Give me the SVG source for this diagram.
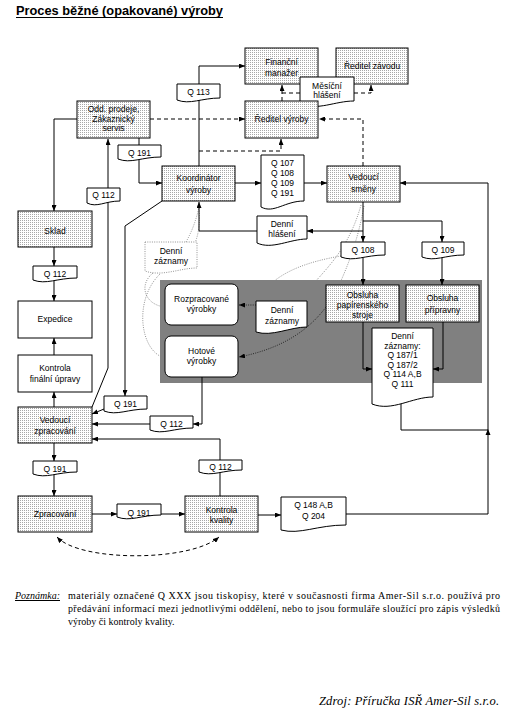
<svg xmlns="http://www.w3.org/2000/svg" width="505" height="711" viewBox="0 0 505 711">
<defs>
<pattern id="h" width="2" height="2" patternUnits="userSpaceOnUse"><rect width="2" height="2" fill="#fff"/><rect width="1" height="1" fill="#a8a8a8"/></pattern>
<marker id="a" viewBox="0 0 6 5" refX="6" refY="2.5" markerWidth="6" markerHeight="5" markerUnits="userSpaceOnUse" orient="auto"><path d="M0,0 L6,2.5 L0,5 z" fill="#000"/></marker>
<marker id="as" viewBox="0 0 6 5" refX="6" refY="2.5" markerWidth="6" markerHeight="5" markerUnits="userSpaceOnUse" orient="auto-start-reverse"><path d="M0,0 L6,2.5 L0,5 z" fill="#000"/></marker>
<style>
.b{fill:url(#h);stroke:#000;stroke-width:1}
.w{fill:#fff;stroke:#000;stroke-width:1}
.t{font-family:"Liberation Sans",Arial,sans-serif;font-size:8.5px;text-anchor:middle;fill:#000}
.c{fill:none;stroke:#000;stroke-width:1}
.d{stroke-dasharray:4,3}
.o{fill:none;stroke:#777;stroke-width:0.8;stroke-dasharray:1,1.3}
.k{fill:none;stroke:#111;stroke-width:0.8;stroke-dasharray:1,1.3}
.n{font-family:"Liberation Serif","Times New Roman",serif;font-size:10px;fill:#000}
.z{font-family:"Liberation Serif","Times New Roman",serif;font-size:12.5px;font-style:italic;fill:#000}
</style>
</defs>
<rect width="505" height="711" fill="#fff"/>
<text x="16" y="15" font-family="Liberation Sans,Arial,sans-serif" font-size="12" font-weight="bold" textLength="207" lengthAdjust="spacingAndGlyphs">Proces běžné (opakované) výroby</text>
<line x1="16" y1="17.5" x2="223" y2="17.5" stroke="#000" stroke-width="1.2"/>

<g id="dotted-curves">
<path class="o" d="M186,242 Q195,226 199,207"/>
<path class="o" d="M195,243 Q201,228 199,207"/>
<path class="o" d="M361,205 C350,245 330,265 315,282"/>
<path class="o" d="M364,206 C358,240 348,265 340,283"/>
<path class="o" d="M341,256 C305,262 285,272 273,282"/>
<path class="o" d="M153,273 C138,285 145,305 165,307"/>
<path class="o" d="M160,274 C133,300 140,352 165,358"/>
</g>

<rect x="160" y="280" width="322" height="103" fill="#808080"/>

<g id="connectors">
<path class="c" d="M77,119 H54 V211" marker-end="url(#a)"/>
<path class="c d" d="M150,119 H245" marker-end="url(#a)"/>
<path class="c" d="M139,138 V146"/>
<path class="c" d="M139,160 V183 H162" marker-end="url(#a)"/>
<path class="c" d="M92,407 L108,368 V139" marker-end="url(#a)"/>
<path class="c" d="M199,166 V66 H245" marker-end="url(#a)"/>
<path class="c d" d="M199,151 H281 V139" marker-end="url(#a)"/>
<path class="c d" d="M282,101 V85" marker-end="url(#a)"/>
<path class="c d" d="M282,93 H300"/>
<path class="c d" d="M354,93 H371 V85" marker-end="url(#a)"/>
<path class="c d" d="M363,166 V119 H319" marker-end="url(#a)"/>
<path class="c" d="M235,183 H261" marker-end="url(#a)"/>
<path class="c" d="M304,183 H327" marker-end="url(#a)"/>
<path class="c" d="M363,202 V242" marker-end="url(#a)"/>
<path class="c" d="M363,221 H442 V242" marker-end="url(#a)"/>
<path class="c" d="M363,231 H307" marker-end="url(#a)"/>
<path class="c" d="M257,231 H199 V202" marker-end="url(#a)"/>
<path class="c" d="M162,201 L125,226 V396" marker-end="url(#a)"/>
<path class="c" d="M104,409 L92,414" marker-end="url(#a)"/>
<path class="c" d="M202,377 V424 H193" marker-end="url(#a)"/>
<path class="c" d="M150,424 H92" marker-end="url(#a)"/>
<path class="c" d="M220,496 V439 H92" marker-end="url(#a)"/>
<path class="c" d="M54,247 V266" marker-end="url(#a)"/>
<path class="c" d="M54,281 V301" marker-end="url(#a)"/>
<path class="c" d="M54,355 V338" marker-end="url(#a)"/>
<path class="c" d="M54,407 V392" marker-end="url(#a)"/>
<path class="c" d="M54,443 V461" marker-end="url(#a)"/>
<path class="c" d="M54,475 V496" marker-end="url(#a)"/>
<path class="c" d="M92,514 H117" marker-end="url(#a)"/>
<path class="c" d="M161,514 H185" marker-end="url(#a)"/>
<path class="c" d="M258,515 H281" marker-end="url(#a)"/>
<path class="c" d="M346,514 H488 V183 H400" marker-end="url(#a)"/>
<path class="c" d="M401,402 V430 H488"/>
<path d="M488,429 L485.5,435 L490.5,435 z" fill="#000"/>
<path class="c" d="M363,258 V285" marker-end="url(#a)"/>
<path class="c" d="M442,258 V285" marker-end="url(#a)"/>
<path class="c" d="M363,322 V369 H372" marker-end="url(#a)"/>
<path class="c" d="M443,322 V369 H433" marker-end="url(#a)"/>
<path class="k" d="M256,305 H239" marker-end="url(#a)"/>
<path class="k" d="M326,307 C305,335 275,350 239,357" marker-end="url(#a)"/>
<path class="c d" d="M57,537 C80,562 190,562 219,537" marker-start="url(#as)" marker-end="url(#as)"/>
</g>

<g id="odd-prodeje"><rect class="b" x="77" y="101" width="73" height="37"/><text class="t" x="113.5" y="112">Odd. prodeje,</text><text class="t" x="113.5" y="122">Zákaznický</text><text class="t" x="113.5" y="131">servis</text></g>
<g id="q113"><path class="w" d="M177,84 H220 V98 C201.7,98 189.9,105 177,100 Z"/><text class="t" x="198.5" y="95">Q 113</text></g>
<g id="financni-manazer"><rect class="b" x="245" y="48" width="73" height="36"/><text class="t" x="281.5" y="65">Finanční</text><text class="t" x="281.5" y="76">manažer</text></g>
<g id="reditel-zavodu"><rect class="b" x="336" y="48" width="72" height="36"/><text class="t" x="372" y="69">Ředitel závodu</text></g>
<g id="mesicni-hlaseni"><path class="w" d="M300,77 H354 V101 C335,101 318,111 300,104 Z"/><text class="t" x="327" y="89">Měsíční</text><text class="t" x="327" y="98">hlášení</text></g>
<g id="reditel-vyroby"><rect class="b" x="245" y="101" width="73" height="37"/><text class="t" x="281.5" y="122">Ředitel výroby</text></g>
<g id="q191-a"><path class="w" d="M118,145 H161 V157 C141.7,157 130.9,164 118,159 Z"/><text class="t" x="139.5" y="156">Q 191</text></g>
<g id="koordinator"><rect class="b" x="162" y="166" width="73" height="35"/><text class="t" x="198.5" y="181">Koordinátor</text><text class="t" x="198.5" y="193">výroby</text></g>
<g id="q107"><path class="w" d="M261,155 H304 V201 C284.7,201 273.9,214 261,207 Z"/><text class="t" x="282.5" y="166">Q 107</text><text class="t" x="282.5" y="176">Q 108</text><text class="t" x="282.5" y="186">Q 109</text><text class="t" x="282.5" y="196">Q 191</text></g>
<g id="vedouci-smeny"><rect class="b" x="327" y="166" width="73" height="36"/><text class="t" x="363.5" y="180">Vedoucí</text><text class="t" x="363.5" y="192">směny</text></g>
<g id="q112-a"><path class="w" d="M87,188 H120 V201 C105.2,201 96.9,208 87,203 Z"/><text class="t" x="103.5" y="198">Q 112</text></g>
<g id="sklad"><rect class="b" x="18" y="211" width="74" height="36"/><text class="t" x="55" y="234">Sklad</text></g>
<g id="denni-hlaseni"><path class="w" d="M257,216 H307 V239 C290,239 272,250 257,243 Z"/><text class="t" x="282" y="227">Denní</text><text class="t" x="282" y="237">hlášení</text></g>
<g id="denni-zaznamy-a"><path fill="#fff" stroke="#777" stroke-width="0.8" stroke-dasharray="1,1.3" d="M145,242 H197 V268 C180,268 162,277 145,271 Z"/><text class="t" x="171" y="254">Denní</text><text class="t" x="171" y="264">záznamy</text></g>
<g id="q108"><path class="w" d="M341,242 H385 V255 C365.2,255 354.2,262 341,257 Z"/><text class="t" x="363" y="253">Q 108</text></g>
<g id="q109"><path class="w" d="M422,242 H464 V255 C445.1,255 434.6,262 422,257 Z"/><text class="t" x="443" y="253">Q 109</text></g>
<g id="q112-b"><path class="w" d="M33,266 H77 V278 C57.2,278 46.2,285 33,280 Z"/><text class="t" x="55" y="277">Q 112</text></g>
<g id="expedice"><rect class="w" x="18" y="301" width="74" height="37"/><text class="t" x="55" y="322">Expedice</text></g>
<g id="rozpracovane"><rect class="w" x="165" y="284" width="73" height="41" rx="6"/><text class="t" x="201.5" y="302">Rozpracované</text><text class="t" x="201.5" y="312">výrobky</text></g>
<g id="denni-zaznamy-b"><path class="w" d="M256,301 H307 V327 C290,327 272,337 256,332 Z"/><text class="t" x="282" y="313">Denní</text><text class="t" x="282" y="324">záznamy</text></g>
<g id="obsluha-papirenskeho"><rect class="b" x="326" y="285" width="73" height="37"/><text class="t" x="362.5" y="298">Obsluha</text><text class="t" x="362.5" y="308">papírenského</text><text class="t" x="362.5" y="318">stroje</text></g>
<g id="obsluha-pripravny"><rect class="b" x="406" y="285" width="73" height="37"/><text class="t" x="442.5" y="301">Obsluha</text><text class="t" x="442.5" y="313">přípravny</text></g>
<g id="hotove"><rect class="w" x="165" y="336" width="73" height="41" rx="6"/><text class="t" x="201.5" y="354">Hotové</text><text class="t" x="201.5" y="364">výrobky</text></g>
<g id="denni-zaznamy-c"><path class="w" d="M372,328 H433 V397 C412,397 392,412 372,404 Z"/><text class="t" x="402.5" y="339">Denní</text><text class="t" x="402.5" y="348.5">záznamy:</text><text class="t" x="402.5" y="358">Q 187/1</text><text class="t" x="402.5" y="367.5">Q 187/2</text><text class="t" x="402.5" y="377">Q 114 A,B</text><text class="t" x="402.5" y="386.5">Q 111</text></g>
<g id="kontrola-finalni"><rect class="w" x="18" y="355" width="74" height="37"/><text class="t" x="55" y="371">Kontrola</text><text class="t" x="55" y="382">finální úpravy</text></g>
<g id="q191-b"><path class="w" d="M104,396 H147 V409 C127.7,409 116.9,416 104,411 Z"/><text class="t" x="125.5" y="407">Q 191</text></g>
<g id="vedouci-zpracovani"><rect class="b" x="18" y="407" width="74" height="36"/><text class="t" x="55" y="423">Vedoucí</text><text class="t" x="55" y="434">zpracování</text></g>
<g id="q112-c"><path class="w" d="M150,416 H193 V428 C173.7,428 162.9,435 150,430 Z"/><text class="t" x="171.5" y="427">Q 112</text></g>
<g id="q191-c"><path class="w" d="M33,461 H77 V472 C57.2,472 46.2,479 33,474 Z"/><text class="t" x="55" y="472">Q 191</text></g>
<g id="q112-d"><path class="w" d="M199,460 H242 V470 C222.7,470 211.9,477 199,472 Z"/><text class="t" x="220.5" y="470">Q 112</text></g>
<g id="zpracovani"><rect class="b" x="18" y="496" width="74" height="36"/><text class="t" x="55" y="517">Zpracování</text></g>
<g id="q191-d"><path class="w" d="M117,504 H161 V515 C141.2,515 130.2,522 117,517 Z"/><text class="t" x="139" y="516">Q 191</text></g>
<g id="kontrola-kvality"><rect class="b" x="185" y="496" width="73" height="36"/><text class="t" x="221.5" y="513">Kontrola</text><text class="t" x="221.5" y="523">kvality</text></g>
<g id="q148"><path class="w" d="M281,497 H346 V525 C317,525 300,535 281,530 Z"/><text class="t" x="313.5" y="508">Q 148 A,B</text><text class="t" x="313.5" y="519">Q 204</text></g>

<g id="note">
<text class="n" x="15" y="599" font-style="italic" text-decoration="underline">Poznámka:</text>
<text class="n" x="68" y="599" textLength="432" lengthAdjust="spacing">materiály označené Q XXX jsou tiskopisy, které v současnosti firma Amer-Sil s.r.o. používá pro</text>
<text class="n" x="68" y="612" textLength="432" lengthAdjust="spacing">předávání informací mezi jednotlivými oddělení, nebo to jsou formuláře sloužící pro zápis výsledků</text>
<text class="n" x="68" y="625">výroby či kontroly kvality.</text>
<text class="z" x="319" y="705" textLength="180" lengthAdjust="spacing">Zdroj: Příručka ISŘ Amer-Sil s.r.o.</text>
</g>
</svg>
